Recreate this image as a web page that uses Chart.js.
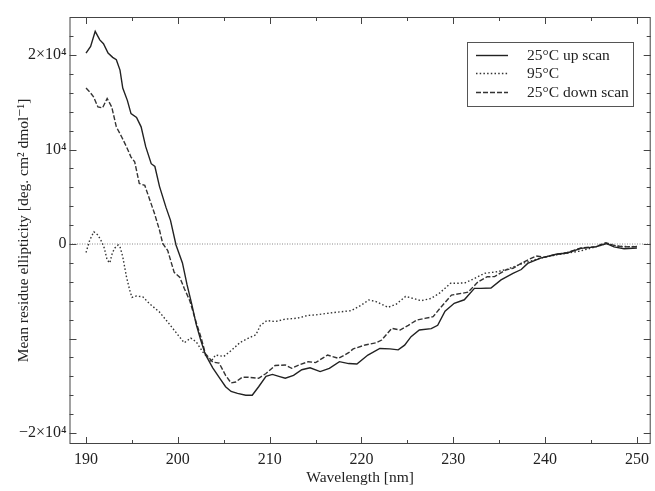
<!DOCTYPE html>
<html>
<head>
<meta charset="utf-8">
<script src="https://cdn.jsdelivr.net/npm/chart.js@4.4.1/dist/chart.umd.min.js"></script>
<style>
  html, body { margin: 0; padding: 0; background: #fff; }
  #wrap { width: 655px; height: 491px; }
</style>
</head>
<body>
<div id="wrap"><canvas id="cd"></canvas></div>
<script>
// 25°C up scan
const upWl = [190.0, 190.5, 191.0, 191.5, 191.9, 192.4, 192.9, 193.3, 193.7, 194.0, 194.5, 194.9, 195.5, 196.0, 196.5, 197.1, 197.5, 198.0, 198.7, 199.2, 199.8, 200.5, 201.0, 201.5, 202.0, 202.5, 203.0, 203.8, 204.5, 205.2, 205.8, 206.5, 207.4, 208.1, 208.8, 209.6, 210.3, 211.0, 211.7, 212.6, 213.5, 214.4, 215.5, 216.5, 217.6, 218.6, 219.5, 220.7, 222.0, 223.1, 224.0, 224.7, 225.4, 226.3, 227.6, 228.3, 229.1, 230.1, 231.2, 232.3, 233.0, 234.1, 235.2, 236.5, 237.4, 238.1, 239.5, 241.2, 242.4, 243.9, 245.5, 246.7, 247.5, 248.6, 250.0];
const upVal = [20200, 20900, 22500, 21600, 21200, 20200, 19750, 19500, 18400, 16500, 15200, 13800, 13400, 12400, 10300, 8500, 8200, 6100, 3900, 2500, -100, -2000, -4300, -6300, -8500, -10200, -11700, -13100, -14100, -15100, -15600, -15800, -16000, -16000, -15100, -14000, -13800, -14000, -14200, -13900, -13300, -13100, -13500, -13150, -12450, -12650, -12700, -11750, -11050, -11100, -11200, -10700, -9800, -9100, -8950, -8600, -7100, -6270, -5900, -4690, -4690, -4650, -3800, -3100, -2700, -2050, -1500, -1080, -950, -455, -300, 50, -300, -500, -420];

// 95°C
const hotWl = [190.0, 190.4, 190.85, 191.3, 191.7, 192.0, 192.3, 192.6, 192.8, 193.1, 193.5, 193.7, 194.0, 194.4, 194.75, 195.0, 195.5, 196.2, 196.9, 198.0, 199.1, 200.2, 200.7, 201.4, 202.0, 202.7, 203.6, 204.1, 205.0, 205.9, 206.8, 207.7, 208.5, 209.0, 209.7, 210.6, 211.7, 213.0, 214.2, 215.0, 216.8, 218.9, 220.0, 220.8, 221.6, 222.9, 223.8, 224.8, 225.6, 226.5, 227.6, 228.5, 229.7, 230.5, 231.3, 232.3, 233.4, 234.8, 235.9, 237.7, 239.7, 241.5, 243.8, 245.5, 246.7, 248.0, 249.3, 250.0];
const hotVal = [-900, 400, 1300, 950, 250, -450, -1700, -2000, -1150, -450, -100, -280, -1350, -3450, -4850, -5650, -5500, -5600, -6300, -7200, -8500, -9850, -10450, -9950, -10350, -11400, -12450, -11750, -11900, -11200, -10400, -9950, -9600, -8600, -8100, -8200, -7950, -7850, -7550, -7500, -7270, -7050, -6450, -5920, -6100, -6700, -6350, -5550, -5750, -6000, -5750, -5200, -4150, -4150, -4100, -3650, -3100, -2930, -2650, -2000, -1450, -1100, -750, -300, 50, -250, -280, -250];

// 25°C down scan
const downWl = [190.0, 190.4, 190.8, 191.3, 191.8, 192.3, 192.8, 193.3, 193.9, 194.4, 194.9, 195.3, 195.8, 196.4, 196.9, 197.45, 198.0, 198.35, 198.9, 199.6, 200.2, 200.7, 201.3, 202.0, 202.5, 203.0, 203.8, 204.5, 205.2, 205.8, 206.3, 207.0, 207.7, 208.8, 209.6, 210.6, 211.7, 212.4, 213.2, 214.2, 215.0, 216.3, 217.5, 218.6, 219.1, 220.4, 221.6, 222.2, 223.3, 224.2, 225.1, 226.0, 226.9, 227.8, 228.7, 229.8, 230.9, 231.6, 232.7, 233.7, 234.5, 235.7, 236.5, 237.5, 239.0, 239.9, 241.2, 242.4, 243.9, 245.5, 246.6, 247.5, 248.6, 250.0];
const downVal = [16500, 16100, 15600, 14500, 14400, 15400, 14500, 12400, 11300, 10300, 9200, 8700, 6400, 6200, 4800, 3250, 1480, 70, -700, -3000, -3500, -4700, -6000, -8300, -9800, -11600, -12500, -12600, -13900, -14700, -14600, -14100, -14100, -14200, -13700, -12850, -12800, -13150, -12800, -12450, -12550, -11750, -12100, -11500, -11100, -10680, -10450, -10160, -8920, -9100, -8600, -8050, -7870, -7690, -6630, -5400, -5220, -5100, -4000, -3460, -3450, -2750, -2570, -1980, -1270, -1400, -1100, -900, -420, -280, 140, -150, -300, -280];

const xTicks = [190, 200, 210, 220, 230, 240, 250];
const yTicks = [-20000, -10000, 0, 10000, 20000];
const yLabels = { "20000": "2×10⁴", "10000": "10⁴", "0": "0", "-20000": "−2×10⁴" };

const serif = "'Liberation Serif', 'DejaVu Serif', serif";

function pts(wl, val) {
  return wl.map((w, i) => ({ x: w, y: val[i] }));
}

// inward ticks on all four sides + frame + legend box
const frame = {
  id: 'frame',
  afterDraw(chart) {
    const { ctx, chartArea: a, scales: { x, y } } = chart;
    ctx.save();
    ctx.strokeStyle = '#444';
    ctx.lineWidth = 1;
    ctx.strokeRect(a.left + 0.5, a.top + 0.5, a.right - a.left - 1, a.bottom - a.top - 1);
    ctx.beginPath();
    for (let v = 190; v <= 250; v += 5) {
      const px = Math.round(x.getPixelForValue(v)) + 0.5;
      const len = v % 10 === 0 ? 7 : 4;
      ctx.moveTo(px, a.bottom); ctx.lineTo(px, a.bottom - len);
      ctx.moveTo(px, a.top); ctx.lineTo(px, a.top + len);
    }
    for (let v = -20000; v <= 22000; v += 2000) {
      const py = Math.round(y.getPixelForValue(v)) + 0.5;
      const len = v % 10000 === 0 ? 7 : 4;
      ctx.moveTo(a.left, py); ctx.lineTo(a.left + len, py);
      ctx.moveTo(a.right, py); ctx.lineTo(a.right - len, py);
    }
    ctx.stroke();

    // legend
    const bx = 467, by = 42, bw = 166, bh = 64;
    ctx.strokeStyle = '#555';
    ctx.strokeRect(bx + 0.5, by + 0.5, bw, bh);
    ctx.font = '15.5px ' + serif;
    ctx.fillStyle = '#222';
    ctx.textBaseline = 'middle';
    const rows = [55, 73, 92];
    chart.data.datasets.filter(d => d.label).forEach((d, i) => {
      ctx.beginPath();
      ctx.strokeStyle = d.borderColor;
      ctx.lineWidth = d.borderWidth;
      ctx.setLineDash(d.borderDash || []);
      ctx.moveTo(476, rows[i] + 0.5); ctx.lineTo(508, rows[i] + 0.5);
      ctx.stroke();
      ctx.setLineDash([]);
      ctx.fillText(d.label, 527, rows[i] + 1);
    });
    ctx.restore();
  }
};

new Chart(document.getElementById('cd'), {
  type: 'line',
  data: {
    datasets: [
      { label: '25°C up scan', data: pts(upWl, upVal), borderColor: '#222', borderWidth: 1.4 },
      { label: '95°C', data: pts(hotWl, hotVal), borderColor: '#333', borderWidth: 1.4, borderDash: [1.5, 2.2] },
      { label: '25°C down scan', data: pts(downWl, downVal), borderColor: '#333', borderWidth: 1.4, borderDash: [5, 2] },
      { label: '', data: [{ x: 188.2, y: 0 }, { x: 251.5, y: 0 }], borderColor: '#888', borderWidth: 1, borderDash: [1, 1.5] }
    ]
  },
  options: {
    responsive: true,
    maintainAspectRatio: false,
    animation: false,
    layout: { padding: { top: 17, right: 3, left: 0, bottom: 0 } },
    elements: { point: { radius: 0 }, line: { tension: 0 } },
    plugins: { legend: { display: false }, tooltip: { enabled: false } },
    scales: {
      x: {
        type: 'linear',
        min: 188.2,
        max: 251.5,
        afterBuildTicks: s => { s.ticks = xTicks.map(v => ({ value: v })); },
        afterFit: s => { s.height = 47; },
        grid: { display: false, drawTicks: false },
        border: { display: false },
        ticks: { color: '#222', font: { family: serif, size: 16 }, padding: 6, maxRotation: 0 },
        title: { display: true, text: 'Wavelength [nm]', color: '#222', font: { family: serif, size: 15.5 }, padding: { top: 0 } }
      },
      y: {
        min: -21160,
        max: 24020,
        afterBuildTicks: s => { s.ticks = yTicks.map(v => ({ value: v })); },
        afterFit: s => { s.width = 69.5; },
        grid: { display: false, drawTicks: false },
        border: { display: false },
        ticks: {
          color: '#222',
          font: { family: serif, size: 16 },
          padding: 3,
          callback: v => yLabels[String(v)] || ''
        },
        title: { display: true, text: 'Mean residue ellipticity [deg. cm² dmol⁻¹]', color: '#222', font: { family: serif, size: 15.5 }, padding: { top: 15, bottom: 0 } }
      }
    }
  },
  plugins: [frame]
});
</script>
</body>
</html>
